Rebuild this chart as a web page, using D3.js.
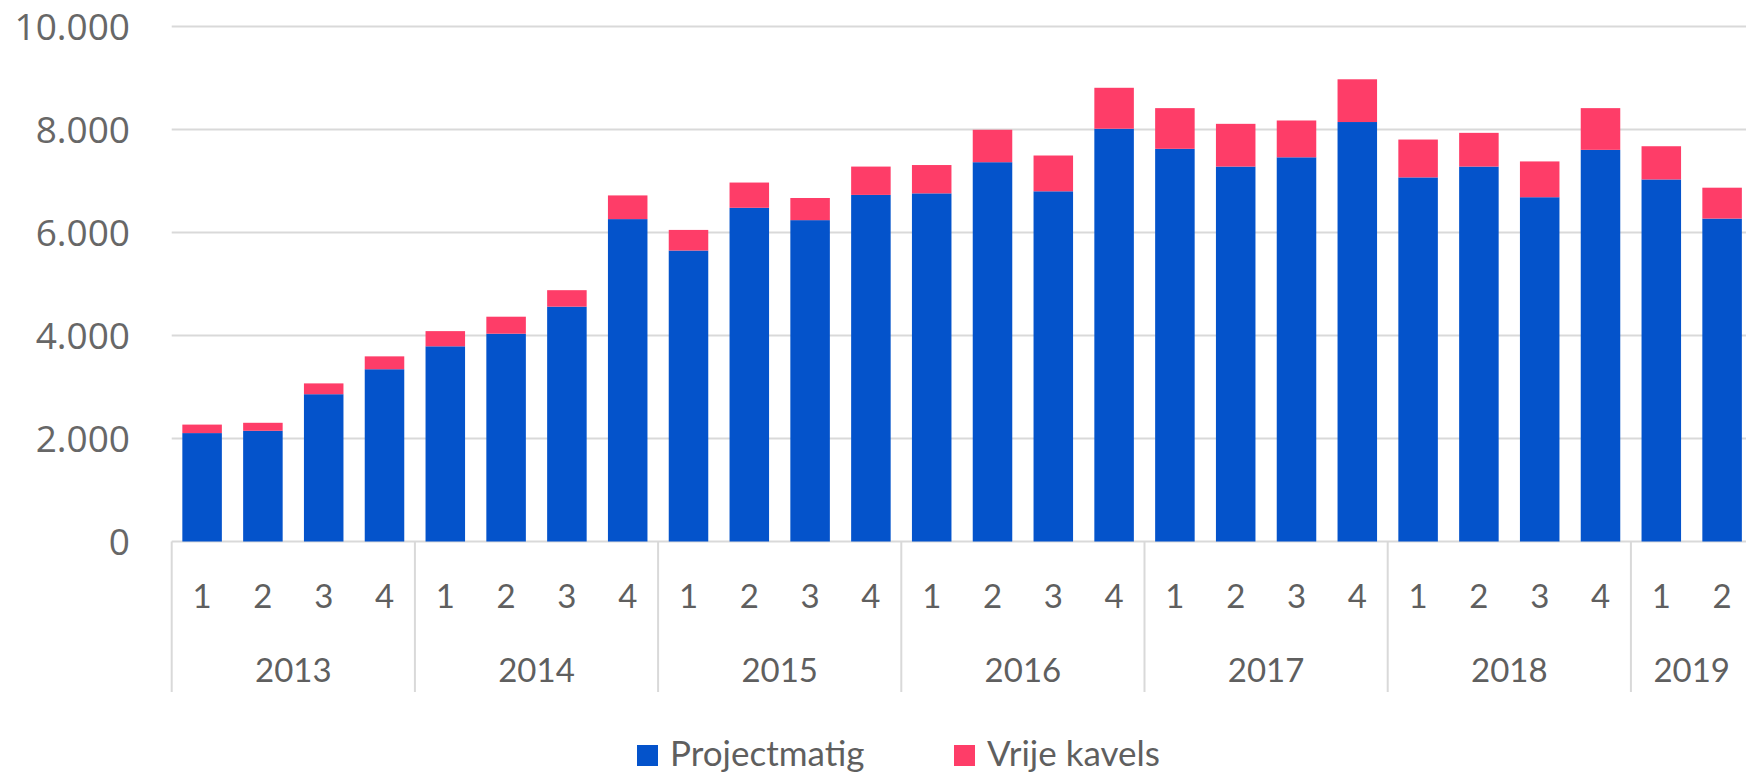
<!DOCTYPE html>
<html>
<head>
<meta charset="utf-8">
<script src="https://cdn.jsdelivr.net/npm/d3@7"></script>
<style>
  body { margin: 0; background: #fff; }
  .ylab { font-family: "Open Sans", sans-serif; font-size: 37px; fill: #676767; }
  .xlab { font-family: Lato, sans-serif; font-size: 33px; fill: #5f5f5f; }
  .leg { font-family: Lato, sans-serif; font-size: 35px; fill: #5f5f5f; }
</style>
</head>
<body>
<svg id="chart"></svg>
<script>
// data (woningen per kwartaal)
var years = ["2013", "2014", "2015", "2016", "2017", "2018", "2019"];
var quartersPerYear = [4, 4, 4, 4, 4, 4, 2];
var projectmatig = [2105, 2150, 2860, 3345, 3790, 4035, 4560, 6260, 5650, 6480, 6240, 6730, 6760,
  7365, 6800, 8015, 7625, 7280, 7460, 8145, 7070, 7280, 6685, 7605, 7030, 6270];
var vrijeKavels = [165, 155, 210, 250, 295, 330, 320, 460, 400, 490, 430, 550, 550,
  630, 695, 795, 790, 830, 715, 830, 735, 655, 695, 810, 645, 600];
var yTicks = [0, 2000, 4000, 6000, 8000, 10000];
var seriesNames = ["Projectmatig", "Vrije kavels"];
var colors = ["#0453cb", "#fe3d68"];

var width = 1746, height = 775;
var left = 171.7, step = 60.8, y0 = 541.5, yTop = 26.5;

// build rows: one per quarter
var rows = [];
years.forEach(function(yr, yi) {
  for (var q = 1; q <= quartersPerYear[yi]; q++) {
    var i = rows.length;
    rows.push({key: yr + "-" + q, year: yr, q: q, Projectmatig: projectmatig[i], "Vrije kavels": vrijeKavels[i]});
  }
});

var svg = d3.select("#chart").attr("width", width).attr("height", height);

var x = d3.scaleBand()
  .domain(rows.map(function(d) { return d.key; }))
  .range([left, left + rows.length * step])
  .paddingInner(0.35)
  .paddingOuter(0.175);

var y = d3.scaleLinear().domain([0, 10000]).range([y0, yTop]);

// gridlines
svg.append("g").selectAll("line")
  .data(yTicks)
  .enter().append("line")
  .attr("x1", left).attr("x2", width)
  .attr("y1", function(d) { return y(d); })
  .attr("y2", function(d) { return y(d); })
  .attr("stroke", "#d9d9d9")
  .attr("stroke-width", 2);

// y labels
var yAxis = svg.append("g")
  .attr("transform", "translate(130,0)")
  .call(d3.axisLeft(y).tickValues(yTicks).tickSize(0).tickPadding(0)
    .tickFormat(function(d) { return d3.format(",")(d).replace(/,/g, "."); }));
yAxis.select(".domain").remove();
yAxis.selectAll("text").attr("class", "ylab").attr("font-size", null).attr("font-family", null).attr("fill", null)
  .attr("dy", "0.36em");

// stacked bars
var stack = d3.stack().keys(seriesNames)(rows);
svg.append("g").selectAll("g")
  .data(stack)
  .enter().append("g")
  .attr("fill", function(d, i) { return colors[i]; })
  .selectAll("rect")
  .data(function(d) { return d; })
  .enter().append("rect")
  .attr("x", function(d) { return x(d.data.key); })
  .attr("width", x.bandwidth())
  .attr("y", function(d) { return y(d[1]); })
  .attr("height", function(d) { return y(d[0]) - y(d[1]); });

// quarter labels
svg.append("g").selectAll("text")
  .data(rows)
  .enter().append("text")
  .attr("class", "xlab")
  .attr("x", function(d) { return x(d.key) + x.bandwidth() / 2; })
  .attr("y", 596)
  .attr("dy", "0.35em")
  .attr("text-anchor", "middle")
  .text(function(d) { return d.q; });

// year groups: separators and labels
var groups = [], start = 0;
years.forEach(function(yr, yi) {
  groups.push({year: yr, x0: x(rows[start].key) - x.step() * x.paddingInner() / 2,
    x1: x(rows[start + quartersPerYear[yi] - 1].key) + x.bandwidth() + x.step() * x.paddingInner() / 2});
  start += quartersPerYear[yi];
});

svg.append("g").selectAll("line")
  .data(groups)
  .enter().append("line")
  .attr("x1", function(d) { return d.x0; })
  .attr("x2", function(d) { return d.x0; })
  .attr("y1", y0).attr("y2", 692)
  .attr("stroke", "#d9d9d9")
  .attr("stroke-width", 2);

svg.append("g").selectAll("text")
  .data(groups)
  .enter().append("text")
  .attr("class", "xlab")
  .attr("x", function(d) { return (d.x0 + d.x1) / 2; })
  .attr("y", 670)
  .attr("dy", "0.35em")
  .attr("text-anchor", "middle")
  .text(function(d) { return d.year; });

// legend
var legX = [637, 954];
var leg = svg.append("g").selectAll("g")
  .data(seriesNames)
  .enter().append("g")
  .attr("transform", function(d, i) { return "translate(" + legX[i] + ",745)"; });
leg.append("rect").attr("width", 21).attr("height", 21)
  .attr("fill", function(d, i) { return colors[i]; });
leg.append("text").attr("class", "leg")
  .attr("x", 33).attr("y", 21)
  .text(function(d) { return d; });
</script>
</body>
</html>
